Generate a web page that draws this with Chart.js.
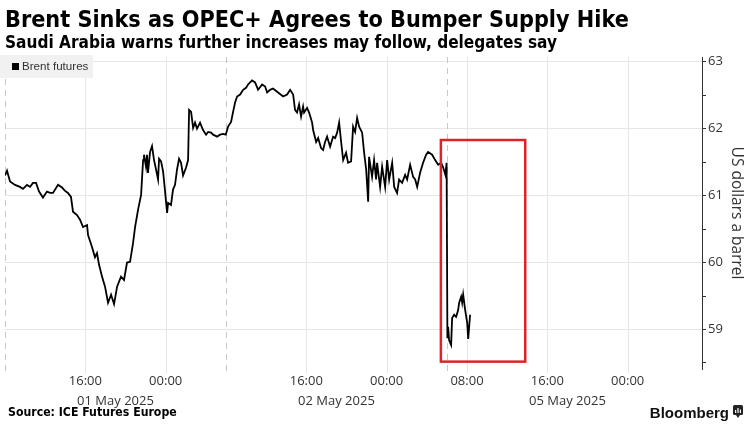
<!DOCTYPE html>
<html>
<head>
<meta charset="utf-8">
<script src="https://cdn.jsdelivr.net/npm/chart.js@4.4.1/dist/chart.umd.min.js"></script>
<style>
  html, body { margin: 0; padding: 0; background: #fff; }
  #wrap { width: 748px; height: 424px; position: relative; }
</style>
</head>
<body>
<div id="wrap"><canvas id="chart"></canvas></div>
<script>
const TITLE = 'Brent Sinks as OPEC+ Agrees to Bumper Supply Hike';
const SUBTITLE = 'Saudi Arabia warns further increases may follow, delegates say';
const SOURCE = 'Source: ICE Futures Europe';
const BRAND = 'Bloomberg';
const SERIES_NAME = 'Brent futures';
const Y_TITLE = 'US dollars a barrel';

// x values are trading-session hours on a gap-free axis:
// 0 = 01 May 08:00, 22 = 02 May 08:00, 44 = 05 May 06:00
const may01Hours = [0, 0.2, 0.5, 1.0, 1.49, 1.79, 2.19, 2.49, 2.79, 3.09, 3.39, 3.78, 4.18, 4.48, 4.78, 5.28, 5.68, 5.98, 6.27, 6.57,
    6.77, 7.17, 7.47, 7.77, 8.17, 8.27, 8.67, 8.96, 9.16, 9.36, 9.66, 9.96, 10.26, 10.56, 10.86, 11.16, 11.55, 11.85, 12.15, 12.45,
    12.75, 12.95, 13.25, 13.55, 13.75, 13.84, 14.04, 14.14, 14.24, 14.44, 14.64, 14.84, 15.04, 15.24, 15.34, 15.54, 15.74, 15.94, 16.14, 16.24,
    16.53, 16.73, 16.93, 17.13, 17.33, 17.53, 17.73, 18.03, 18.23, 18.33, 18.53, 18.73, 18.92, 19.12, 19.42, 19.72, 20.02, 20.22, 20.52, 20.72,
    21.12, 21.41, 21.71, 21.98];
const may01Prices = [61.30, 61.37, 61.21, 61.16, 61.13, 61.10, 61.16, 61.13, 61.19, 61.19, 61.06, 60.97, 61.06, 61.04, 61.04, 61.16, 61.12, 61.07, 61.04, 60.98,
    60.76, 60.71, 60.64, 60.53, 60.56, 60.41, 60.23, 60.08, 60.14, 59.97, 59.79, 59.64, 59.40, 59.52, 59.38, 59.64, 59.79, 59.74, 60.00, 60.01,
    60.29, 60.53, 60.79, 61.01, 61.53, 61.61, 61.43, 61.61, 61.34, 61.65, 61.74, 61.53, 61.39, 61.24, 61.55, 61.51, 61.36, 61.06, 60.74, 60.89,
    60.86, 61.09, 61.16, 61.39, 61.55, 61.49, 61.30, 61.42, 61.53, 62.28, 62.25, 62.01, 62.09, 62.00, 62.09, 61.98, 61.91, 61.95, 61.94, 61.91,
    61.88, 61.91, 61.92, 61.91];
const may02Hours = [22.21, 22.51, 22.71, 22.91, 23.11, 23.41, 23.71, 24.0, 24.2, 24.6, 24.9, 25.2, 25.6, 25.9, 26.1, 26.39, 26.69, 27.19, 27.69, 28.09,
    28.39, 28.69, 28.88, 29.08, 29.28, 29.48, 29.68, 29.78, 30.08, 30.28, 30.58, 30.68, 30.98, 31.18, 31.47, 31.67, 31.87, 32.07, 32.37, 32.67,
    32.87, 33.07, 33.27, 33.47, 33.67, 33.96, 34.16, 34.46, 34.66, 34.86, 35.06, 35.26, 35.56, 35.76, 35.96, 36.16, 36.25, 36.55, 36.75, 36.95,
    37.05, 37.35, 37.55, 37.85, 38.05, 38.25, 38.55, 38.75, 39.04, 39.24, 39.54, 39.84, 40.04, 40.34, 40.64, 40.84, 41.04, 41.33, 41.63, 41.93,
    42.13, 42.53, 42.83, 43.13, 43.43, 43.63, 43.85, 43.97];
const may02Prices = [62.03, 62.10, 62.25, 62.39, 62.48, 62.51, 62.58, 62.61, 62.66, 62.72, 62.69, 62.58, 62.66, 62.63, 62.54, 62.58, 62.60, 62.54, 62.48, 62.51,
    62.58, 62.51, 62.28, 62.24, 62.36, 62.18, 62.33, 62.24, 62.31, 62.24, 62.09, 61.98, 61.80, 61.86, 61.71, 61.68, 61.80, 61.88, 61.73, 61.88,
    61.86, 61.94, 62.09, 61.80, 61.53, 61.64, 61.49, 61.51, 62.03, 61.95, 62.16, 62.03, 61.94, 61.64, 61.39, 60.91, 61.58, 61.28, 61.53, 61.24,
    61.49, 61.13, 61.43, 61.13, 61.53, 61.24, 61.49, 61.13, 61.04, 61.24, 61.19, 61.31, 61.24, 61.46, 61.28, 61.24, 61.13, 61.34, 61.49, 61.61,
    61.65, 61.61, 61.53, 61.46, 61.49, 61.42, 61.31, 61.49];
const may05Hours = [44.05, 44.12, 44.22, 44.42, 44.52, 44.72, 44.92, 45.12, 45.22, 45.42, 45.52, 45.62, 45.82, 46.02, 46.12, 46.31];
const may05Prices = [58.87, 59.04, 58.84, 58.77, 59.17, 59.22, 59.19, 59.29, 59.40, 59.49, 59.40, 59.52, 59.29, 59.10, 58.86, 59.22];

const timeTickHours = [8, 16, 30, 38, 46, 54, 62];
const timeTickLabels = ['16:00', '00:00', '16:00', '00:00', '08:00', '16:00', '00:00'];
const dayStartHours = [0, 22, 44];
const dayEndHours = [22, 44, 68];
const dayLabels = ['01 May 2025', '02 May 2025', '05 May 2025'];
const yTickValues = [58.5, 59, 59.5, 60, 60.5, 61, 61.5, 62, 62.5, 63];

// red highlight box, in data units
const highlightHours = [43.4, 51.8];
const highlightPrices = [58.52, 61.83];

const points = [];
[[may01Hours, may01Prices], [may02Hours, may02Prices], [may05Hours, may05Prices]].forEach(([hs, ps]) => {
    hs.forEach((h, i) => points.push({ x: h, y: ps[i] }));
});

const dayMidHours = dayStartHours.map((s, i) => (s + dayEndHours[i]) / 2);
const labelFor = {};
timeTickHours.forEach((h, i) => { labelFor[h] = timeTickLabels[i]; });
dayMidHours.forEach((h, i) => { labelFor[h] = ['', dayLabels[i]]; });

const TEXT = '#333333';
const AXIS_FONT = "'Open Sans', 'DejaVu Sans', sans-serif";
const HEAD_FONT = "'DejaVu Sans Condensed', 'DejaVu Sans', sans-serif";

const decorations = {
    id: 'decorations',
    beforeDatasetsDraw(chart) {
        const { ctx, chartArea: a, scales: { x } } = chart;
        ctx.save();
        // solid time gridlines
        ctx.strokeStyle = '#e6e6e6';
        ctx.lineWidth = 1;
        timeTickHours.forEach((h) => {
            const px = Math.round(x.getPixelForValue(h)) + 0.5;
            ctx.beginPath();
            ctx.moveTo(px, a.top);
            ctx.lineTo(px, a.bottom + 4);
            ctx.stroke();
        });
        // dashed day separators
        ctx.strokeStyle = '#c8c8c8';
        ctx.setLineDash([6, 5]);
        dayStartHours.forEach((h) => {
            const px = Math.round(x.getPixelForValue(h)) + 0.5;
            ctx.beginPath();
            ctx.moveTo(px, a.top);
            ctx.lineTo(px, a.bottom + 4);
            ctx.stroke();
        });
        ctx.setLineDash([]);
        // legend box
        ctx.fillStyle = '#f1f1f1';
        ctx.fillRect(a.left - 5, a.top - 2, 93, 23);
        ctx.fillStyle = '#000';
        ctx.fillRect(a.left + 7, a.top + 6, 7, 7);
        ctx.fillStyle = TEXT;
        ctx.font = "11.6px 'Liberation Sans Narrow', 'Liberation Sans', sans-serif";
        ctx.textBaseline = 'middle';
        ctx.fillText(SERIES_NAME, a.left + 17, a.top + 10);
        ctx.restore();
    },
    afterDatasetsDraw(chart) {
        const { ctx, scales: { x, y } } = chart;
        const x0 = x.getPixelForValue(highlightHours[0]);
        const x1 = x.getPixelForValue(highlightHours[1]);
        const y0 = y.getPixelForValue(highlightPrices[1]);
        const y1 = y.getPixelForValue(highlightPrices[0]);
        ctx.save();
        ctx.strokeStyle = '#dc2328';
        ctx.lineWidth = 2.5;
        ctx.strokeRect(x0, y0, x1 - x0, y1 - y0);
        ctx.restore();
    },
    afterDraw(chart) {
        const { ctx, width } = chart;
        ctx.save();
        ctx.fillStyle = '#000';
        ctx.textBaseline = 'alphabetic';
        ctx.textAlign = 'left';
        ctx.font = 'bold 23.2px ' + HEAD_FONT;
        ctx.fillText(TITLE, 5, 27);
        ctx.font = 'bold 17.1px ' + HEAD_FONT;
        ctx.fillText(SUBTITLE, 5, 48);
        ctx.font = 'bold 12.2px ' + HEAD_FONT;
        ctx.fillText(SOURCE, 8, 416);
        ctx.textAlign = 'right';
        ctx.font = "bold 15px 'Liberation Sans', sans-serif";
        ctx.fillStyle = '#111';
        ctx.fillText(BRAND, width - 19, 418);
        // brand mark
        ctx.fillStyle = '#222';
        ctx.beginPath();
        ctx.roundRect(width - 15, 405, 10, 10, 1.5);
        ctx.fill();
        ctx.beginPath();
        ctx.moveTo(width - 12, 415);
        ctx.lineTo(width - 10, 418);
        ctx.lineTo(width - 8, 415);
        ctx.fill();
        ctx.fillStyle = '#fff';
        ctx.fillRect(width - 13, 410, 1.2, 3);
        ctx.fillRect(width - 10.6, 408, 1.2, 5);
        ctx.fillRect(width - 8.2, 409.5, 1.2, 3.5);
        ctx.restore();
    }
};

new Chart(document.getElementById('chart'), {
    type: 'line',
    data: {
        datasets: [{
            label: SERIES_NAME,
            data: points,
            borderColor: '#000',
            borderWidth: 1.8,
            pointRadius: 0,
            tension: 0,
            fill: false
        }]
    },
    options: {
        responsive: true,
        maintainAspectRatio: false,
        animation: false,
        parsing: false,
        layout: { padding: { top: 57, left: 5, right: 0, bottom: 0 } },
        plugins: {
            legend: { display: false },
            tooltip: { enabled: false }
        },
        scales: {
            x: {
                type: 'linear',
                min: 0,
                max: 69.4,
                grid: { display: false },
                border: { display: false },
                afterBuildTicks: (scale) => {
                    scale.ticks = timeTickHours.concat(dayMidHours).sort((a, b) => a - b).map((v) => ({ value: v }));
                },
                afterFit: (scale) => { scale.height = 55; },
                ticks: {
                    autoSkip: false,
                    maxRotation: 0,
                    padding: -6,
                    color: TEXT,
                    font: { family: AXIS_FONT, size: 13, lineHeight: 1.55 },
                    callback: (value) => labelFor[value]
                }
            },
            y: {
                position: 'right',
                min: 58.41,
                max: 63.07,
                afterBuildTicks: (scale) => {
                    scale.ticks = yTickValues.map((v) => ({ value: v }));
                },
                afterFit: (scale) => { scale.width = 46; },
                grid: {
                    color: (ctx) => (ctx.tick && Number.isInteger(ctx.tick.value) ? '#e6e6e6' : 'rgba(0,0,0,0)'),
                    tickColor: '#333',
                    tickLength: 4,
                    drawTicks: true
                },
                border: { display: true, color: '#333', width: 1 },
                ticks: {
                    padding: 2,
                    color: TEXT,
                    font: { family: AXIS_FONT, size: 13 },
                    callback: (value) => (Number.isInteger(value) ? String(value) : '')
                },
                title: {
                    display: true,
                    text: Y_TITLE,
                    color: TEXT,
                    font: { family: AXIS_FONT, size: 15.5 },
                    padding: 2
                }
            }
        }
    },
    plugins: [decorations]
});
</script>
</body>
</html>
